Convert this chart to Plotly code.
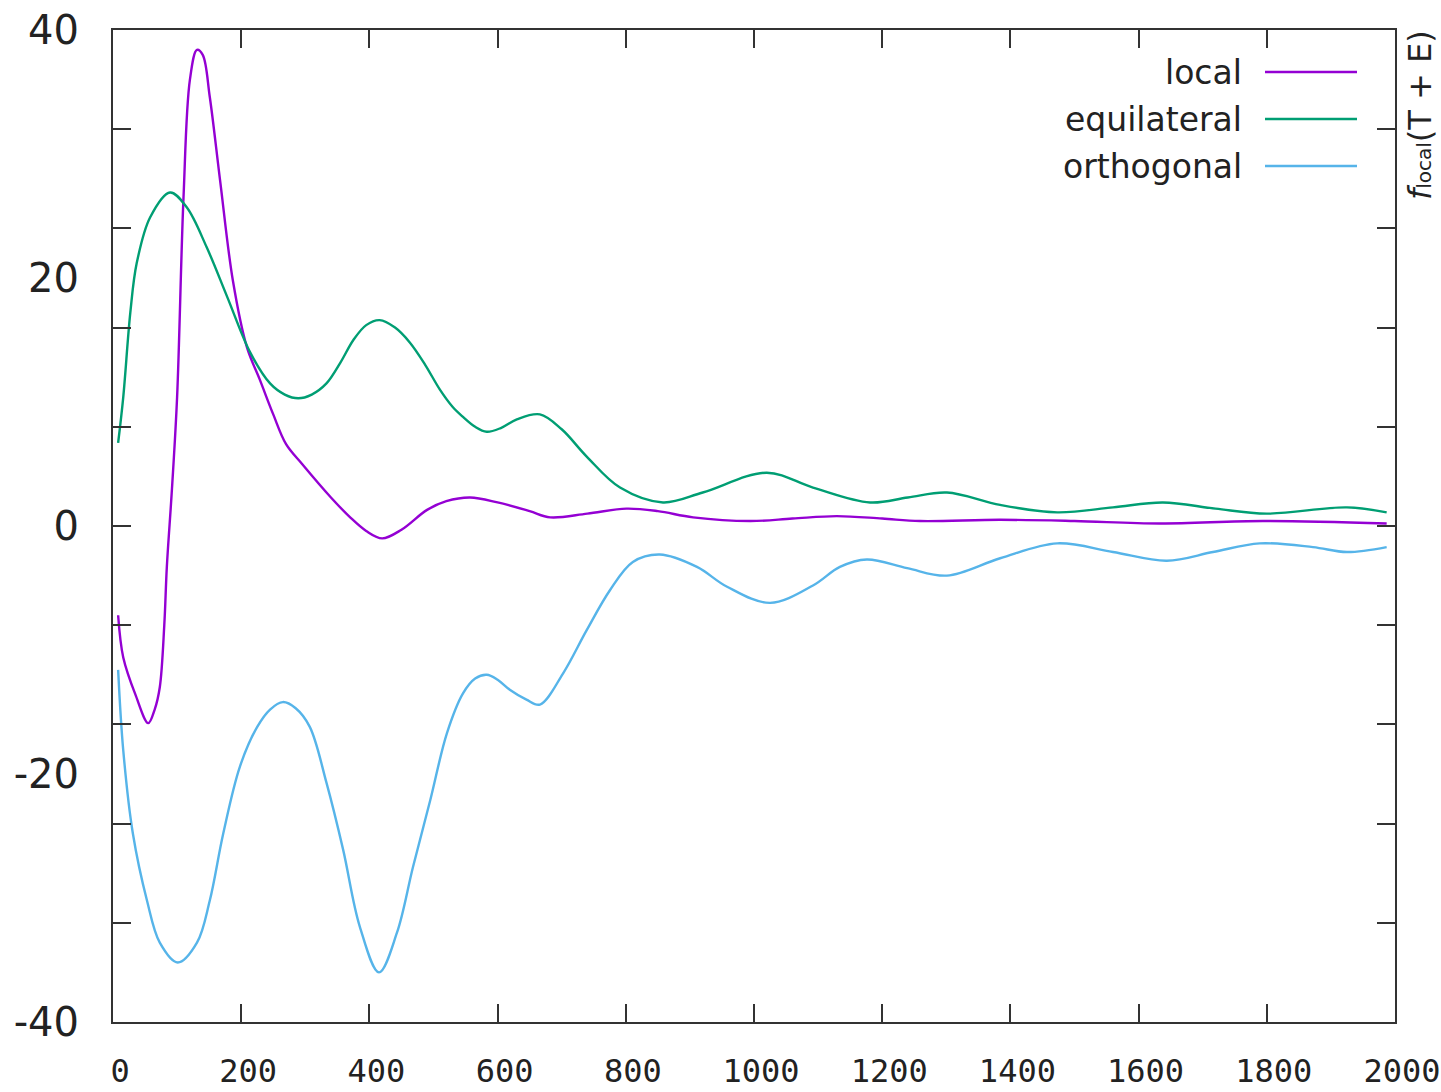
import plotly.graph_objects as go

# Sampled curves (x in multipoles, y in units of the plotted quantity)
local_x = [8, 16, 35, 55, 65, 73, 80, 84, 92, 100, 110, 120, 131, 140, 151, 167, 187, 209,
           229, 250, 270, 295, 340, 370, 395, 420, 450, 490, 520, 557, 600, 650, 682, 740,
           801, 850, 905, 994, 1060, 1129, 1200, 1259, 1384, 1500, 1633, 1794, 1987]
local_y = [-7.2, -10.6, -13.6, -15.9, -14.8, -13.0, -8.0, -3.3, 3.0, 10.4, 26.5, 36.0, 38.4,
           38.0, 34.6, 27.9, 19.8, 14.4, 11.8, 9.0, 6.6, 5.0, 2.3, 0.7, -0.4, -1.0, -0.3,
           1.3, 2.0, 2.3, 1.9, 1.2, 0.7, 1.0, 1.4, 1.2, 0.7, 0.4, 0.6, 0.8, 0.6, 0.4, 0.5,
           0.4, 0.2, 0.4, 0.2]

equil_x = [8, 16, 27, 37, 58, 89, 115, 146, 178, 214, 245, 268, 289, 310, 333, 355, 375,
           395, 416, 440, 463, 487, 510, 530, 546, 565, 583, 605, 630, 666, 700, 739, 791,
           858, 920, 1020, 1092, 1181, 1240, 1301, 1384, 1473, 1560, 1638, 1720, 1800, 1925,
           1987]
equil_y = [6.7, 10.4, 17.2, 21.2, 24.9, 26.9, 25.7, 22.5, 18.5, 14.0, 11.5, 10.6, 10.3, 10.6,
           11.5, 13.2, 15.0, 16.2, 16.6, 16.0, 14.8, 13.0, 11.0, 9.6, 8.8, 8.0, 7.6, 7.9, 8.6,
           9.0, 7.8, 5.6, 3.1, 1.9, 2.7, 4.3, 3.1, 1.9, 2.3, 2.7, 1.7, 1.1, 1.5, 1.9, 1.4, 1.0,
           1.5, 1.1]

ortho_x = [8, 16, 31, 53, 73, 101, 131, 151, 172, 198, 225, 245, 265, 285, 307, 333, 359,
           385, 415, 443, 468, 495, 521, 546, 565, 583, 600, 619, 645, 666, 702, 739, 775, 811,
           853, 911, 958, 1025, 1092, 1134, 1176, 1239, 1301, 1384, 1473, 1560, 1644, 1716,
           1789, 1872, 1925, 1987]
ortho_y = [-11.6, -18.1, -24.8, -30.2, -33.6, -35.2, -33.6, -30.2, -24.8, -19.4, -16.2, -14.8,
           -14.2, -14.7, -16.2, -20.7, -26.1, -32.3, -36.0, -32.8, -27.5, -22.1, -16.7, -13.5,
           -12.3, -12.0, -12.4, -13.2, -14.0, -14.4, -11.9, -8.4, -5.2, -2.9, -2.3, -3.3, -4.9,
           -6.2, -4.8, -3.3, -2.7, -3.4, -4.0, -2.6, -1.4, -2.1, -2.8, -2.1, -1.4, -1.7, -2.1,
           -1.7]

series_names = ["local", "equilateral", "orthogonal"]
series_colors = ["#9400d3", "#009e73", "#56b4e9"]

x_ticks = [0, 200, 400, 600, 800, 1000, 1200, 1400, 1600, 1800, 2000]
y_label_vals = [40, 20, 0, -20, -40]

AXIS_COLOR = "#333333"
TEXT_COLOR = "#222222"

fig = go.Figure()
for name, xs, ys, col in zip(series_names,
                             [local_x, equil_x, ortho_x],
                             [local_y, equil_y, ortho_y],
                             series_colors):
    fig.add_trace(go.Scatter(
        x=xs, y=ys, name=name, mode="lines",
        line=dict(color=col, width=2.4, shape="spline", smoothing=1.0),
        showlegend=False,
    ))

fig.update_layout(
    width=1441, height=1092,
    margin=dict(l=113, r=46, t=30, b=70),
    paper_bgcolor="white", plot_bgcolor="white",
    font=dict(family="DejaVu Sans", color=TEXT_COLOR),
)

fig.update_xaxes(
    range=[0, 2000], tickvals=x_ticks, ticktext=[str(v) for v in x_ticks],
    showgrid=False, zeroline=False, automargin=False,
    showline=True, linecolor=AXIS_COLOR, linewidth=2, mirror="ticks",
    ticks="inside", ticklen=18, tickwidth=2, tickcolor=AXIS_COLOR,
    tickfont=dict(family="DejaVu Sans Mono", size=32, color=TEXT_COLOR),
    ticklabelstandoff=20, ticklabelshift=7,
)

fig.update_yaxes(
    range=[-40, 40], tickvals=y_label_vals, ticktext=[str(v) for v in y_label_vals],
    showgrid=False, zeroline=False, automargin=False,
    showline=True, linecolor=AXIS_COLOR, linewidth=2, mirror="ticks",
    ticks="inside", ticklen=0, tickwidth=2, tickcolor=AXIS_COLOR,
    minor=dict(tick0=0, dtick=8, ticks="inside", ticklen=18, tickwidth=2,
               tickcolor=AXIS_COLOR, showgrid=False),
    tickfont=dict(family="DejaVu Sans", size=40, color=TEXT_COLOR),
    ticklabelstandoff=24,
)

# Key: right-aligned names followed by line samples, gnuplot style
plot_l, plot_r, plot_t, plot_b = 113, 1395, 30, 1022
def px_x(p):
    return (p - plot_l) / (plot_r - plot_l)
def px_y(p):
    return (plot_b - p) / (plot_b - plot_t)

key_rows = [72, 119, 166]
for name, col, row in zip(series_names, series_colors, key_rows):
    fig.add_annotation(
        x=px_x(1244), y=px_y(row), xref="paper", yref="paper",
        text=name, showarrow=False, xanchor="right", yanchor="middle",
        font=dict(family="DejaVu Sans", size=33, color=TEXT_COLOR),
    )
    fig.add_shape(
        type="line", xref="paper", yref="paper",
        x0=px_x(1265), x1=px_x(1357), y0=px_y(row), y1=px_y(row),
        line=dict(color=col, width=2.6),
    )

# Second-axis title on the right edge
fig.add_annotation(
    x=px_x(1420), y=px_y(202), xref="paper", yref="paper",
    text="<i>f</i><span style='font-size:20px'>local</span>(T + E)",
    showarrow=False, textangle=-90,
    xanchor="center", yanchor="bottom",
    font=dict(family="DejaVu Sans", size=32, color=TEXT_COLOR),
)

fig.write_html("out.html")
